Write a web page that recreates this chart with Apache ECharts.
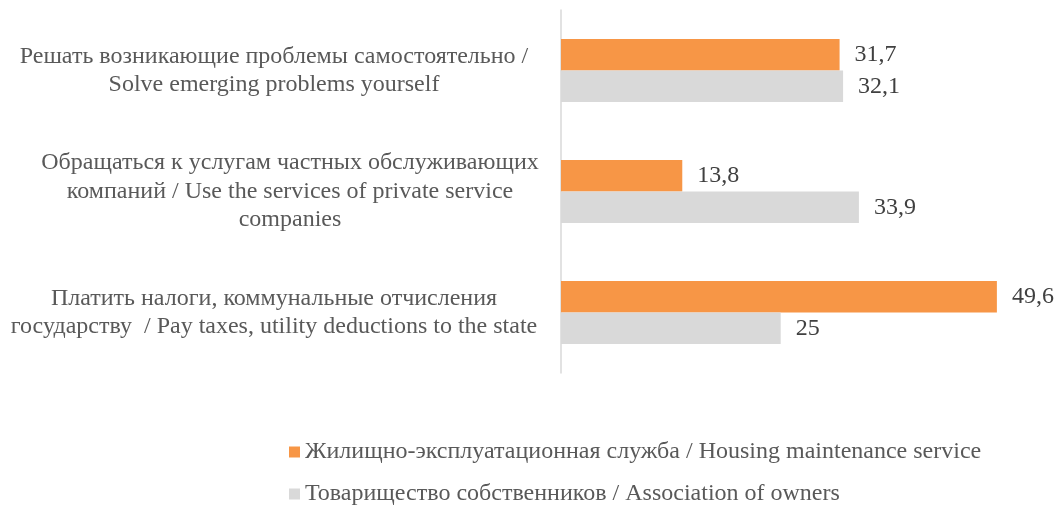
<!DOCTYPE html>
<html><head><meta charset="utf-8">
<script src="https://cdn.jsdelivr.net/npm/echarts@6/dist/echarts.min.js"></script>
<style>html,body{margin:0;padding:0;background:#fff}#c{width:1057px;height:506px}</style>
</head><body><div id="c"></div>
<script>
const categories = [
  "Решать возникающие проблемы самостоятельно /\nSolve emerging problems yourself",
  "Обращаться к услугам частных обслуживающих\nкомпаний / Use the services of private service\ncompanies",
  "Платить налоги, коммунальные отчисления\nгосударству  / Pay taxes, utility deductions to the state"
];
const seriesNames = [
  "Жилищно-эксплуатационная служба / Housing maintenance service",
  "Товарищество собственников / Association of owners"
];
const housingValues = [31.7, 13.8, 49.6];
const ownersValues = [32.1, 33.9, 25];

const font = "'Liberation Serif','Times New Roman',serif";
const chart = echarts.init(document.getElementById('c'), null, {renderer: 'canvas'});
const fmt = p => String(p.value).replace('.', ',');
const labelStyle = {align: 'center', color: '#595959', fontFamily: font, fontSize: 24, lineHeight: 28.5};
const catData = categories.map((c, i) => ({
  value: c,
  textStyle: Object.assign({}, labelStyle, {padding: i === 1 ? [6, 0, 0, 32] : [6, 0, 0, 0]})
}));
const legendText = {fontFamily: font, fontSize: 24, color: '#595959'};
chart.setOption({
  animation: false,
  grid: {left: 561, right: 56.6, top: 10, bottom: 133, containLabel: false, outerBoundsMode: 'none'},
  xAxis: {type: 'value', min: 0, max: 50, show: false},
  yAxis: {
    type: 'category', inverse: true, data: catData,
    axisLine: {show: true, lineStyle: {color: '#D9D9D9', width: 1.5}},
    axisTick: {show: false},
    axisLabel: Object.assign({margin: 287}, labelStyle)
  },
  legend: [
    {left: 284, top: 435, itemWidth: 11, itemHeight: 11, itemGap: 5,
     icon: 'rect', textStyle: legendText, data: [seriesNames[0]]},
    {left: 284, top: 477, itemWidth: 11, itemHeight: 11, itemGap: 5,
     icon: 'rect', textStyle: legendText, data: [seriesNames[1]]}
  ],
  series: [
    {
      name: seriesNames[0], type: 'bar', data: housingValues,
      barGap: '0%', barCategoryGap: '48%',
      itemStyle: {color: '#F79646'},
      label: {show: true, position: 'right', distance: 15, formatter: fmt,
        color: '#404040', fontFamily: font, fontSize: 24}
    },
    {
      name: seriesNames[1], type: 'bar', data: ownersValues,
      barGap: '0%', barCategoryGap: '48%',
      itemStyle: {color: '#D9D9D9'},
      label: {show: true, position: 'right', distance: 15, formatter: fmt,
        color: '#404040', fontFamily: font, fontSize: 24}
    }
  ]
});
</script></body></html>
